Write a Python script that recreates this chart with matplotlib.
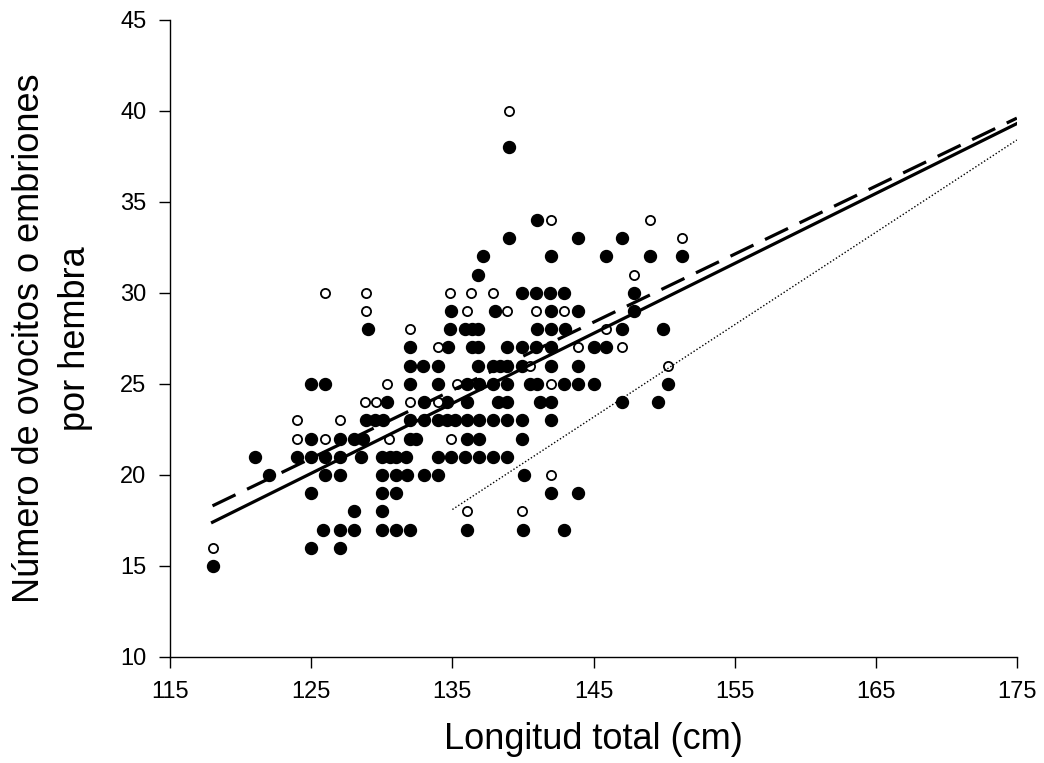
import numpy as np
import matplotlib
matplotlib.use("Agg")
import matplotlib.pyplot as plt

plt.rcParams["font.family"] = ["Liberation Sans", "DejaVu Sans"]

# filled circles: length (cm) per row of count
filled_rows = {
    15: [118],
    16: [125, 127],
    17: [125.8, 127, 128, 130, 131, 132, 136, 140, 142.9],
    18: [128, 130],
    19: [125, 130, 131, 142, 143.9],
    20: [122, 126, 127, 130, 131, 131.8, 133, 134, 140.1],
    21: [121, 124, 125, 126, 127, 128.5, 130, 130.6, 131, 131.7, 134,
         134.9, 135.9, 136.9, 137.9, 138.9],
    22: [125, 127, 128, 128.7, 132, 132.4, 136, 136.9, 139.9],
    23: [128.9, 129.5, 130.1, 132, 133, 134, 134.6, 135.2, 136, 136.9,
         137.9, 138.9, 139.9, 142],
    24: [130.4, 133, 134.6, 136, 138.2, 138.9, 141.2, 142, 147, 149.6],
    25: [125, 126, 132, 134, 136, 136.9, 137.9, 138.9, 140.5, 141, 142.9,
         143.9, 145, 150.3],
    26: [132, 132.9, 134, 136.8, 137.9, 138.4, 138.9, 139.9, 142, 143.9],
    27: [132, 134.7, 136.4, 136.8, 138.9, 139.9, 140.9, 142, 145, 145.9],
    28: [129, 134.8, 135.9, 136.4, 136.8, 141, 142, 143, 147, 149.9],
    29: [134.9, 138, 142, 143.9, 147.9],
    30: [139.9, 140.9, 141.9, 142.9, 147.9],
    31: [136.8],
    32: [137.2, 142, 145.9, 149, 151.3],
    33: [139, 143.9, 147],
    34: [141],
    38: [139],
}

# open circles
open_rows = {
    16: [118],
    18: [136, 139.9],
    20: [142],
    22: [124, 126, 130.5, 134.9],
    23: [124, 127],
    24: [128.8, 129.6, 132, 134],
    25: [130.4, 135.3, 142],
    26: [140.5, 150.3],
    27: [134, 143.9, 147],
    28: [132, 145.9],
    29: [128.9, 136, 138.9, 140.9, 142.9],
    30: [126, 128.9, 134.8, 136.3, 137.9],
    31: [147.9],
    33: [151.3],
    34: [142, 149],
    40: [139],
}

# regression lines (start, end)
solid_x = [118, 175]
solid_y = [17.4, 39.3]
dashed_x = [118, 175]
dashed_y = [18.3, 39.6]
dotted_x = [135, 175]
dotted_y = [18.1, 38.4]

fx = [x for y, xs in filled_rows.items() for x in xs]
fy = [y for y, xs in filled_rows.items() for x in xs]
ox = [x for y, xs in open_rows.items() for x in xs]
oy = [y for y, xs in open_rows.items() for x in xs]

fig = plt.figure(figsize=(10.44, 7.63), dpi=100)
ax = fig.add_axes([0.163, 0.139, 0.811, 0.835])

ax.plot(fx, fy, "o", color="black", markersize=8.6, zorder=2)
ax.plot(ox, oy, "o", markerfacecolor="white", markeredgecolor="black",
        markersize=6.6, markeredgewidth=1.3, zorder=2)

ax.plot(solid_x, solid_y, "-", color="black", linewidth=2.3, zorder=3)
ax.plot(dashed_x, dashed_y, color="black", linewidth=2.3,
        dashes=(8, 4), zorder=3)
ax.plot(dotted_x, dotted_y, color="black", linewidth=1.0,
        dashes=(1, 1.5), zorder=3)

ax.set_xlim(115, 175)
ax.set_ylim(10, 45)
ax.set_xticks(np.arange(115, 176, 10))
ax.set_yticks(np.arange(10, 46, 5))
ax.spines["top"].set_visible(False)
ax.spines["right"].set_visible(False)
for s in ("left", "bottom"):
    ax.spines[s].set_linewidth(1.0)
ax.tick_params(direction="out", length=8, width=1.0, labelsize=17, pad=9)

ax.set_xlabel("Longitud total (cm)", fontsize=26, labelpad=14)
ax.set_ylabel("Número de ovocitos o embriones\npor hembra", fontsize=26,
              labelpad=20, linespacing=1.4)

fig.savefig("out.png", dpi=100)
